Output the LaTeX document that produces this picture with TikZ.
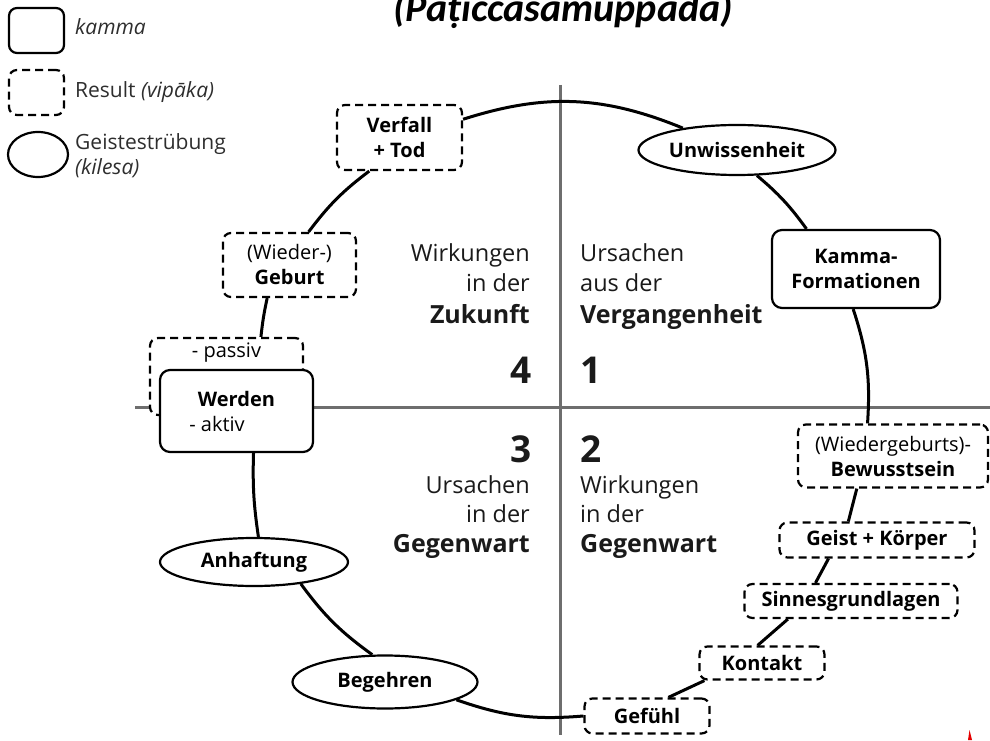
\documentclass[tikz,border=0pt]{standalone}
\usepackage{fontspec}
\setmainfont{Open Sans}
\newfontfamily\titlefont{Carlito}
\usetikzlibrary{shapes.geometric,calc}
\definecolor{axisgray}{HTML}{6E6E6E}
\definecolor{legcol}{HTML}{2E2E2E}
\definecolor{qcol}{HTML}{1A1A1A}
\newcommand{\boxfont}{\fontsize{20}{25}\selectfont}
\newcommand{\quadfont}{\fontsize{23.5}{28}\selectfont}
\newcommand{\quadbfont}{\fontsize{25}{28}\selectfont\bfseries}
\newcommand{\numfont}{\fontsize{37}{40}\selectfont\bfseries}
\newcommand{\legfont}{\fontsize{21}{25}\selectfont}
\begin{document}
\begin{tikzpicture}[x=1pt,y=1pt,
  conn/.style={line width=3pt},
  axisline/.style={line width=3pt, draw=axisgray},
  kbox/.style={draw, line width=2.2pt, rounded corners=10pt, fill=white, inner sep=0pt, align=center, font=\boxfont},
  vbox/.style={draw, line width=2.2pt, dash pattern=on 8pt off 5pt, rounded corners=8pt, fill=white, inner sep=0pt, align=center, font=\boxfont},
  kil/.style={ellipse, draw, line width=2.2pt, fill=white, inner sep=0pt, font=\boxfont\bfseries},
  qtext/.style={inner sep=0pt, text=qcol, font=\quadfont},
  qbold/.style={inner sep=0pt, text=qcol, font=\quadbfont},
  qnum/.style={inner sep=0pt, text=qcol, font=\numfont},
  legtext/.style={inner sep=0pt, text=legcol, font=\legfont}
]
\fill[white] (0,0) rectangle (990,740);
\useasboundingbox (0,0) rectangle (990,740);

% title
\node[anchor=base, inner sep=0pt, font=\titlefont\bfseries\itshape\fontsize{40}{40}\selectfont] (title) at (563,718) {(Paṭiccasamuppāda)};

% axes
\coordinate (vtop) at (560,655);
\coordinate (vbot) at (560,5);
\coordinate (hleft) at (135,333);
\coordinate (hright) at (990,333);
\draw[axisline] (vtop) -- (vbot);
\draw[axisline] (hleft) -- (hright);

% legend
\node[draw, line width=2.2pt, rounded corners=8pt, minimum width=55pt, minimum height=45pt, inner sep=0pt] (legk) at (36.5,709.5) {};
\node[vbox, minimum width=55pt, minimum height=45pt] (legv) at (36.5,647.5) {};
\node[kil, minimum width=60pt, minimum height=45pt] (lege) at (38,585.5) {};
\node[legtext, anchor=base west] (legkt) at (75,705) {\itshape kamma};
\node[legtext, anchor=base west] (legvt) at (75,642) {Result \textit{(vipāka)}};
\node[legtext, anchor=base west] (leget) at (75,590) {Geistestrübung};
\node[legtext, anchor=base west] (leget2) at (75,565) {\itshape (kilesa)};

% quadrant texts
\node[qtext, anchor=base east] (q4a) at (530,478) {Wirkungen};
\node[qtext, anchor=base east] (q4b) at (530,448) {in der};
\node[qbold, anchor=base east] (q4c) at (530,417) {Zukunft};
\node[qnum, anchor=base east] (n4) at (532,357) {4};
\node[qtext, anchor=base west] (q1a) at (580,478) {Ursachen};
\node[qtext, anchor=base west] (q1b) at (580,448) {aus der};
\node[qbold, anchor=base west] (q1c) at (580,417) {Vergangenheit};
\node[qnum, anchor=base west] (n1) at (580,357) {1};
\node[qnum, anchor=base east] (n3) at (532,278) {3};
\node[qtext, anchor=base east] (q3a) at (530,247) {Ursachen};
\node[qtext, anchor=base east] (q3b) at (530,218) {in der};
\node[qbold, anchor=base east] (q3c) at (530,188) {Gegenwart};
\node[qnum, anchor=base west] (n2) at (580,278) {2};
\node[qtext, anchor=base west] (q2a) at (580,247) {Wirkungen};
\node[qtext, anchor=base west] (q2b) at (580,218) {in der};
\node[qbold, anchor=base west] (q2c) at (580,188) {Gegenwart};

% cycle nodes
\node[kil, minimum width=197pt, minimum height=50pt] (unw) at (737,590) {Unwissenheit};
\node[kbox, minimum width=168pt, minimum height=78pt] (kamma) at (856,471) {\textbf{Kamma-}\\\textbf{Formationen}};
\node[vbox, minimum width=190pt, minimum height=63pt] (bew) at (893,284) {(Wiedergeburts)-\\\textbf{Bewusstsein}};
\node[vbox, minimum width=195pt, minimum height=35pt] (geist) at (877,200) {\textbf{Geist + Körper}};
\node[vbox, minimum width=213pt, minimum height=34pt] (sinnes) at (851,139) {\textbf{Sinnesgrundlagen}};
\node[vbox, minimum width=125pt, minimum height=33pt] (kontakt) at (762,77) {\textbf{Kontakt}};
\node[vbox, minimum width=125pt, minimum height=35pt] (gefuehl) at (647,24) {\textbf{Gefühl}};
\node[kil, minimum width=185pt, minimum height=53pt] (begehren) at (385,58) {Begehren};
\node[kil, minimum width=188pt, minimum height=48pt] (anhaft) at (254,178) {Anhaftung};
\node[vbox, minimum width=153pt, text height=20pt, text depth=57pt, anchor=base] (passiv) at (226.5,382) {- passiv};
\node[kbox, minimum width=153pt, minimum height=82pt] (werden) at (236.5,329) {\textbf{Werden}\\- aktiv\hspace*{39pt}};
\node[vbox, minimum width=133pt, minimum height=64pt] (geburt) at (289.5,475) {(Wieder-)\\\textbf{Geburt}};
\node[vbox, minimum width=125pt, minimum height=65pt] (verfall) at (399.5,602.5) {\textbf{Verfall}\\\textbf{+ Tod}};

% connectors
\draw[conn] (verfall.16) to[bend left=20] (unw.158);
\draw[conn] (unw.308) to[bend left=7] (kamma.141);
\draw[conn] (kamma.266) to[bend left=11] (bew.128);
\draw[conn] (bew.222) -- (geist.147);
\draw[conn] (geist.201) -- (sinnes.153);
\draw[conn] (sinnes.196) -- (kontakt.104);
\draw[conn] (kontakt.197) -- (gefuehl.41);
\draw[conn] (gefuehl.180) to[bend left=12] (begehren.346);
\draw[conn] (begehren.115) to[bend left=9] (anhaft.335);
\draw[conn] (anhaft.80) to[bend left=5] (werden.292);
\draw[conn] (passiv.49) to[bend left=3] (geburt.236);
\draw[conn] (geburt.60) to[bend left=8] (verfall.228);

% small red mark
\fill[red!90!black] (968,0) -- (969.5,10) -- (972,0) -- cycle;
\end{tikzpicture}
\end{document}
